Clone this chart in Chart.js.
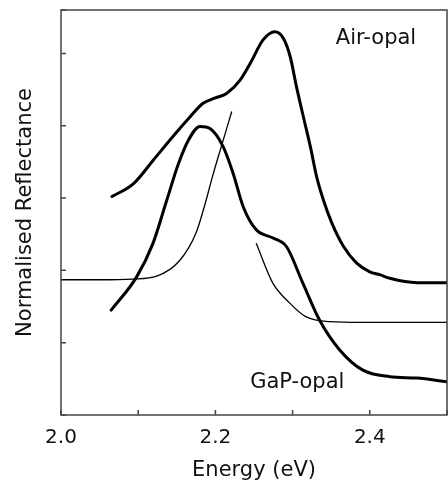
<!DOCTYPE html>
<html>
<head>
<meta charset="utf-8">
<script src="https://cdn.jsdelivr.net/npm/chart.js@4"></script>
<style>
  body { margin: 0; background: #fff; }
  #wrap { width: 448px; height: 485px; }
</style>
</head>
<body>
<div id="wrap"><canvas id="chart" width="448" height="485"></canvas></div>
<script>
// Air-opal reflectance (thick upper curve)
const airX = [2.066, 2.094, 2.120, 2.145, 2.167, 2.184, 2.199, 2.215, 2.232, 2.245, 2.262, 2.277, 2.288, 2.297, 2.305, 2.314, 2.323, 2.331, 2.340, 2.351, 2.366, 2.383, 2.400, 2.413, 2.426, 2.461, 2.500];
const airY = [3.02, 3.20, 3.53, 3.85, 4.12, 4.31, 4.38, 4.45, 4.63, 4.86, 5.19, 5.30, 5.21, 4.95, 4.54, 4.12, 3.71, 3.30, 2.97, 2.65, 2.33, 2.10, 1.98, 1.94, 1.89, 1.83, 1.83];

// GaP-opal reflectance (thick lower curve)
const gapX = [2.065, 2.098, 2.119, 2.137, 2.152, 2.165, 2.180, 2.193, 2.210, 2.223, 2.236, 2.253, 2.274, 2.292, 2.313, 2.335, 2.361, 2.391, 2.426, 2.461, 2.500];
const gapY = [1.45, 1.91, 2.37, 2.97, 3.47, 3.80, 3.99, 3.96, 3.71, 3.34, 2.88, 2.56, 2.45, 2.33, 1.83, 1.31, 0.90, 0.62, 0.53, 0.51, 0.46];

// thin curves
const fitLowX = [2.000, 2.050, 2.093, 2.124, 2.154, 2.175, 2.188, 2.196, 2.209, 2.221];
const fitLowY = [1.87, 1.87, 1.88, 1.92, 2.14, 2.52, 2.97, 3.29, 3.76, 4.19];
const fitHighX = [2.253, 2.274, 2.296, 2.317, 2.348, 2.390, 2.500];
const fitHighY = [2.37, 1.83, 1.55, 1.36, 1.29, 1.28, 1.28];

// curve labels (data coords, left/baseline)
const labelText = ["Air-opal", "GaP-opal"];
const labelX = [2.356, 2.245];
const labelY = [5.126, 0.369];

const FONT = "'DejaVu Sans', sans-serif";

function pts(xs, ys) {
  return xs.map((v, i) => ({ x: v, y: ys[i] }));
}

function curve(xs, ys, w) {
  return {
    data: pts(xs, ys),
    showLine: true,
    borderColor: "#000",
    borderWidth: w,
    borderCapStyle: "round",
    borderJoinStyle: "round",
    pointRadius: 0,
    cubicInterpolationMode: "monotone",
  };
}

// frame, inward ticks and curve labels
const framePlugin = {
  id: "frame",
  afterDraw(chart) {
    const { ctx, chartArea: a } = chart;
    const x = chart.scales.x;
    const y = chart.scales.y;
    ctx.save();
    ctx.strokeStyle = "#444";
    ctx.lineWidth = 1.5;
    ctx.strokeRect(a.left, a.top, a.right - a.left, a.bottom - a.top);
    ctx.beginPath();
    x.ticks.forEach((t) => {
      const px = x.getPixelForValue(t.value);
      ctx.moveTo(px, a.bottom);
      ctx.lineTo(px, a.bottom - 5);
    });
    y.ticks.forEach((t) => {
      const py = y.getPixelForValue(t.value);
      ctx.moveTo(a.left, py);
      ctx.lineTo(a.left + 5, py);
    });
    ctx.stroke();
    ctx.fillStyle = "#111";
    ctx.font = "21px " + FONT;
    ctx.textAlign = "left";
    ctx.textBaseline = "alphabetic";
    for (let i = 0; i < labelText.length; i++) {
      ctx.fillText(labelText[i], x.getPixelForValue(labelX[i]), y.getPixelForValue(labelY[i]));
    }
    ctx.restore();
  },
};

new Chart(document.getElementById("chart"), {
  type: "scatter",
  data: {
    datasets: [
      curve(airX, airY, 3),
      curve(gapX, gapY, 3),
      curve(fitLowX, fitLowY, 1.3),
      curve(fitHighX, fitHighY, 1.3),
    ],
  },
  options: {
    responsive: false,
    animation: false,
    layout: { padding: { top: 10, right: 1, left: 0, bottom: 0 } },
    plugins: { legend: { display: false }, tooltip: { enabled: false } },
    scales: {
      x: {
        type: "linear",
        min: 2.0,
        max: 2.5,
        grid: { display: false },
        border: { display: false },
        ticks: {
          stepSize: 0.1,
          padding: 3,
          maxRotation: 0,
          color: "#111",
          font: { family: FONT, size: 20 },
          callback: (v) => {
            const r = Math.round(v * 10);
            return r % 2 === 0 && r < 25 ? (r / 10).toFixed(1) : "";
          },
        },
        title: {
          display: true,
          text: "Energy (eV)",
          color: "#111",
          font: { family: FONT, size: 21 },
          padding: { top: 0, bottom: 2 },
        },
        afterFit: (s) => {
          s.height = 70;
          s.paddingLeft = 0;
          s.paddingRight = 0;
        },
      },
      y: {
        min: 0,
        max: 5.6,
        grid: { display: false },
        border: { display: false },
        ticks: { stepSize: 1, display: false },
        title: {
          display: true,
          text: "Normalised Reflectance",
          color: "#111",
          font: { family: FONT, size: 21 },
          padding: { top: 13, bottom: 0 },
        },
        afterFit: (s) => { s.width = 61; },
      },
    },
  },
  plugins: [framePlugin],
});
</script>
</body>
</html>
